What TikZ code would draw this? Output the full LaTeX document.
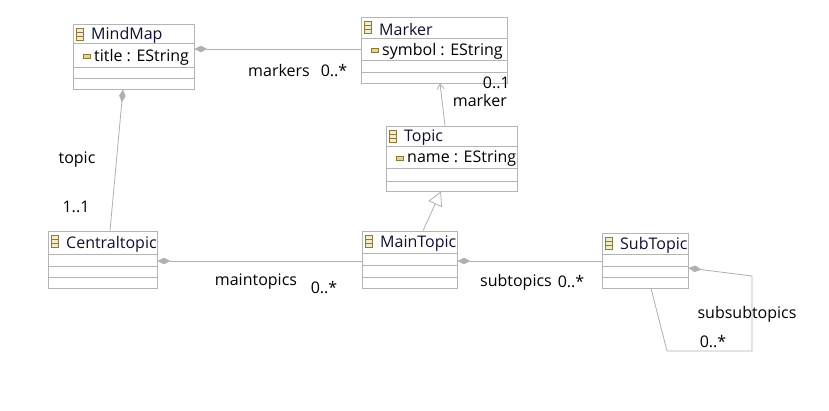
\documentclass[tikz,border=0pt]{standalone}
\usepackage{fontspec}
\setmainfont{Open Sans}
\usetikzlibrary{arrows.meta,fit}
\definecolor{boxgray}{HTML}{B4B4B4}
\definecolor{linegray}{HTML}{B0B0B0}
\definecolor{icoline}{HTML}{8A7A40}
\definecolor{icofill}{HTML}{F3ECC4}
\definecolor{attrfill}{HTML}{E6D68A}
\definecolor{namecol}{HTML}{101030}
\tikzset{
  box/.style={draw=boxgray, line width=0.8pt, inner sep=0pt, fill=white},
  cline/.style={draw=boxgray, line width=0.8pt},
  txt/.style={font=\fontsize{16}{18}\selectfont, inner sep=0pt, text=black, yshift=-2pt},
  nametxt/.style={txt, text=namecol, anchor=west},
  conn/.style={draw=linegray, line width=0.8pt},
  comp/.style={conn, {Diamond[length=13pt,width=6.5pt,fill=linegray]}-},
}
% name, x1, y1, x2, y2, yh, ya, yb, title
\newcommand\umlcls[9]{%
  \path (#2,#3) coordinate (#1nw) (#4,#5) coordinate (#1se);
  \node[box, fit=(#1nw)(#1se)] (#1) {};
  \draw[cline] (#2,#6) -- (#4,#6) (#2,#7) -- (#4,#7) (#2,#8) -- (#4,#8);
  \draw[draw=icoline, fill=icofill, line width=0.6pt] (#2+3,#3+4.5) rectangle (#2+10,#3+16.5);
  \draw[draw=icoline, line width=0.5pt] (#2+3,#3+8.5) -- (#2+10,#3+8.5) (#2+3,#3+12.5) -- (#2+10,#3+12.5);
  \node[nametxt] (#1title) at (#2+18,{(#3+#6)/2}) {#9};
}
\newcommand\umlattr[5]{% name, x1, y1, y2, text
  \draw[draw=icoline, fill=attrfill, line width=0.6pt] (#2+10,{(#3+#4)/2-1}) rectangle (#2+17,{(#3+#4)/2+3});
  \node[txt, anchor=west] (#1attr) at (#2+21,{(#3+#4)/2}) {#5};
}
\begin{document}
\begin{tikzpicture}[x=1pt,y=-1pt]
\useasboundingbox[fill=white] (0,0) rectangle (829,411);
% classes
\umlcls{mindmap}{73}{24}{194}{89}{43}{67}{78}{MindMap}
\umlattr{mindmap}{73}{43}{67}{title : EString}
\umlcls{marker}{361}{17}{507}{83}{38}{60}{72}{Marker}
\umlattr{marker}{361}{38}{60}{symbol : EString}
\umlcls{topic}{386}{126}{517}{191}{146}{168}{181}{Topic}
\umlattr{topic}{386}{146}{168}{name : EString}
\umlcls{central}{48}{231}{157}{288}{254}{266}{277}{Centraltopic}
\umlcls{main}{362}{231}{457}{288}{253}{265}{277}{MainTopic}
\umlcls{sub}{602}{233}{688}{288}{254}{266}{277}{SubTopic}
% connectors
\draw[comp] (mindmap.east |- 0,49) -- (marker.west |- 0,49);
\node[txt] (lmarkers) at (279,69) {markers};
\node[txt] (lmarkersm) at (334,69) {0..*};

\draw[comp] (mindmap.south -| 123,0) -- (central.north -| 110,0);
\node[txt] (ltopic) at (77,158) {topic};
\node[txt] (ltopicm) at (76,205) {1..1};

\draw[conn, -{Straight Barb[length=5pt,width=7pt]}] (topic.north -| 445,0) -- (marker.south -| 440,0);
\node[txt, anchor=east] (lmarkerm) at (510,81) {0..1};
\node[txt, anchor=east] (lmarker) at (507,99) {marker};

\draw[conn, -{Triangle[open,length=14pt,width=15pt,fill=white]}] (main.north -| 423,0) -- (topic.south -| 441,0);

\draw[comp] (central.east |- 0,261) -- (main.west |- 0,261);
\node[txt] (lmain) at (256,280) {maintopics};
\node[txt] (lmainm) at (324,286) {0..*};

\draw[comp] (main.east |- 0,261) -- (sub.west |- 0,261);
\node[txt] (lsub) at (516,280) {subtopics};
\node[txt] (lsubm) at (571,280) {0..*};

\coordinate (s1) at (752,276);
\coordinate (s2) at (752,351);
\coordinate (s3) at (667,351);
\draw[comp] (sub.east |- 0,268) -- (s1) -- (s2) -- (s3) -- (sub.south -| 651,0);
\node[txt] (lss) at (747,312) {subsubtopics};
\node[txt] (lssm) at (713,340) {0..*};
\end{tikzpicture}
\end{document}
